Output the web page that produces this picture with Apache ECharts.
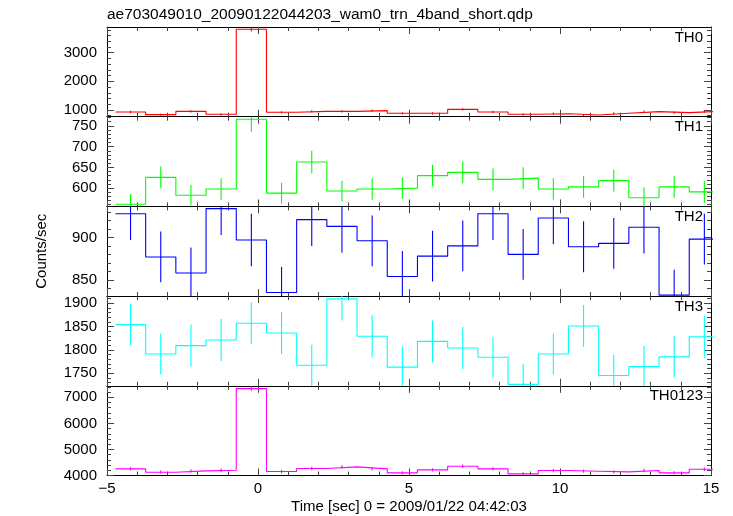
<!DOCTYPE html>
<html>
<head>
<meta charset="utf-8">
<script src="https://cdn.jsdelivr.net/npm/echarts@6/dist/echarts.min.js"></script>
<style>html,body{margin:0;padding:0;background:#fff}#c{width:733px;height:516px}</style>
</head>
<body>
<div id="c"></div>
<script>
// ---- data ----
const times = [-4.22,-3.22,-2.22,-1.22,-0.22,0.78,1.78,2.78,3.78,4.78,5.78,6.78,7.78,8.78,9.78,10.78,11.78,12.78,13.78,14.78];
const binHalfWidth = 0.5;
const panelNames = ['TH0','TH1','TH2','TH3','TH0123'];
const th0 = [930,837,953,849,3816,919,953,953,977,884,884,1023,930,849,870,826,884,942,907,953];
const th0Err = [40,38,40,38,75,40,40,40,41,39,39,42,40,38,39,38,39,40,40,40];
const th1 = [561,626,583,598,766,588,663,593,598,600,630,638,621,624,598,603,618,577,603,591];
const th1Err = [25,26,25,26,30,25,27,25,26,26,26,26,26,26,26,26,26,25,26,26];
const th2 = [928,877,858,934,897,835,921,913,896,854,878,890,928,880,923,889,893,912,832,898];
const th2Err = [31,30,30,31,31,30,31,31,30,30,30,30,31,30,31,30,30,31,30,30];
const th3 = [1854,1791,1809,1821,1857,1836,1767,1909,1829,1763,1818,1804,1784,1726,1791,1851,1745,1764,1785,1828];
const th3Err = [45,44,45,45,45,45,44,46,45,44,45,45,44,44,44,45,44,44,44,45];
const th0123 = [4255,4127,4178,4203,7334,4152,4266,4330,4255,4101,4215,4355,4255,4063,4190,4165,4140,4190,4101,4240];
const th0123Err = [65,64,65,65,86,64,65,66,65,64,65,66,65,64,65,64,64,65,64,65];
const yMin = [766,556,830.8,1723,4000];
const yMax = [3897,772,936.6,1915,7441];
const yMajor = [[1000,2000,3000],[600,650,700,750],[850,900],[1750,1800,1850,1900],[4000,5000,6000,7000]];
const yMinorStep = [200,10,10,10,200];
const xTicks = [-5,0,5,10,15];

const values = [th0,th1,th2,th3,th0123];
const errs = [th0Err,th1Err,th2Err,th3Err,th0123Err];
const colors = ['#ff0000','#00ff00','#0000ff','#00ffff','#ff00ff'];

// ---- layout ----
const FONT = 'Liberation Sans, Arial, Helvetica, sans-serif';
const gLeft = 107, gWidth = 604, gTop0 = 27, gH = 89.7;

function minors(i){
  const out=[]; const s=yMinorStep[i];
  for(let v=Math.ceil(yMin[i]/s)*s; v<=yMax[i]; v+=s){
    if(yMajor[i].indexOf(v)<0) out.push(v);
  }
  return out;
}

const grids=[], xAxes=[], yAxes=[], series=[], graphics=[];
for(let i=0;i<5;i++){
  const top = gTop0 + i*gH;
  grids.push({left:gLeft, top:top, width:gWidth, height:gH, show:false, containLabel:false});
  const last = i===4;
  const xBase = {
    type:'value', gridIndex:i, min:-5, max:15, interval:5,
    axisLine:{show:true, onZero:false, lineStyle:{color:'#000', width:1}},
    axisTick:{show:true, inside:true, length:7, lineStyle:{color:'#444'}},
    minorTick:{show:true, splitNumber:5, length:4, lineStyle:{color:'#444'}},
    splitLine:{show:false}, minorSplitLine:{show:false}
  };
  xAxes.push(Object.assign({}, xBase, {
    position:'bottom',
    axisLabel:{show:last, color:'#000', fontSize:15, fontFamily:FONT, margin:6,
      customValues:xTicks,
      formatter:v=> v<0 ? '\u2212'+Math.abs(v) : String(v)},
    name: last ? 'Time [sec] 0 = 2009/01/22 04:42:03' : '',
    nameLocation:'middle', nameGap:24,
    nameTextStyle:{color:'#000', fontSize:15, fontFamily:FONT}
  }));
  xAxes.push(Object.assign({}, xBase, {position:'top', axisLabel:{show:false}}));
  const yBase = {
    type:'value', gridIndex:i, min:yMin[i], max:yMax[i],
    splitLine:{show:false}
  };
  const xi = i*2;
  const yi = yAxes.length;
  // left major + labels
  yAxes.push(Object.assign({}, yBase, {
    position:'left',
    axisLine:{show:true, onZero:false, lineStyle:{color:'#000', width:1}},
    axisTick:{show:true, inside:true, length:7, customValues:yMajor[i], lineStyle:{color:'#444'}},
    axisLabel:{show:true, customValues:yMajor[i], color:'#000', fontSize:15, fontFamily:FONT, margin:10,
      formatter:v=>String(v)},
    name: i===2 ? 'Counts/sec' : '', nameLocation:'middle', nameGap:58, nameRotate:90,
    nameTextStyle:{color:'#000', fontSize:15, fontFamily:FONT}
  }));
  // left minor
  yAxes.push(Object.assign({}, yBase, {
    position:'left', axisLine:{show:false, onZero:false},
    axisTick:{show:true, inside:true, length:4, customValues:minors(i), lineStyle:{color:'#444'}},
    axisLabel:{show:false}
  }));
  // right major
  yAxes.push(Object.assign({}, yBase, {
    position:'right',
    axisLine:{show:true, onZero:false, lineStyle:{color:'#000', width:1}},
    axisTick:{show:true, inside:true, length:7, customValues:yMajor[i], lineStyle:{color:'#444'}},
    axisLabel:{show:false}
  }));
  // right minor
  yAxes.push(Object.assign({}, yBase, {
    position:'right', axisLine:{show:false, onZero:false},
    axisTick:{show:true, inside:true, length:4, customValues:minors(i), lineStyle:{color:'#444'}},
    axisLabel:{show:false}
  }));

  const v = values[i], e = errs[i];
  const stepData = times.map((t,k)=>[t-binHalfWidth, v[k]]);
  stepData.push([times[times.length-1]+binHalfWidth, v[v.length-1]]);
  series.push({
    type:'line', xAxisIndex:xi, yAxisIndex:yi, data:stepData, step:'end',
    showSymbol:false, symbol:'none', clip:true, animation:false,
    lineStyle:{color:colors[i], width:1.1}, silent:true
  });
  const errData = times.map((t,k)=>[t, v[k]-e[k], v[k]+e[k]]);
  const col = colors[i];
  series.push({
    type:'custom', xAxisIndex:xi, yAxisIndex:yi, data:errData, clip:true, animation:false, silent:true,
    encode:{x:0, y:[1,2]},
    renderItem:(params, api)=>{
      const p1 = api.coord([api.value(0), api.value(1)]);
      const p2 = api.coord([api.value(0), api.value(2)]);
      return {type:'line', shape:{x1:p1[0], y1:p1[1], x2:p2[0], y2:p2[1]},
        style:{stroke:col, lineWidth:1.1}};
    }
  });
  graphics.push({type:'text', x:703, y:top+3, silent:true,
    style:{text:panelNames[i], fill:'#000', font:'15px '+FONT, textAlign:'right', textVerticalAlign:'top'}});
}

const chart = echarts.init(document.getElementById('c'), null, {renderer:'canvas'});
chart.setOption({
  animation:false,
  backgroundColor:'#fff',
  title:{text:'ae703049010_20090122044203_wam0_trn_4band_short.qdp', left:102, top:2,
    textStyle:{color:'#000', fontSize:15.5, fontWeight:'normal', fontFamily:FONT}},
  grid:grids, xAxis:xAxes, yAxis:yAxes, series:series,
  graphic:graphics
});
</script>
</body>
</html>
